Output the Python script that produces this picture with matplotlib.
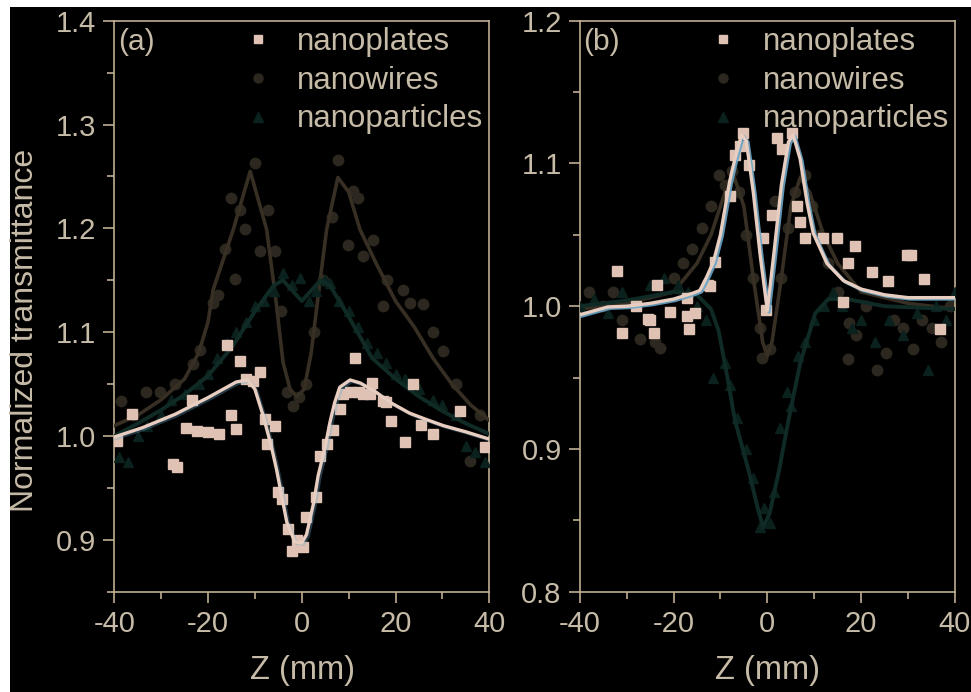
import matplotlib

matplotlib.use("Agg")

import matplotlib.pyplot as plt
import matplotlib.patheffects as pe
from matplotlib.lines import Line2D
from matplotlib.patches import Rectangle
from matplotlib.ticker import MultipleLocator

plt.rcParams["font.family"] = ["Liberation Sans", "DejaVu Sans"]
plt.rcParams["axes.unicode_minus"] = False

# ---- panel (a): measured points ----
a_plates_z = [-39.5, -36.3, -27.4, -26.6, -24.6, -23.5, -22.3, -20.0, -17.7, -16.0,
              -15.0, -14.0, -13.2, -11.8, -10.4, -8.9, -7.9, -7.5, -5.7, -5.0,
              -4.3, -2.9, -2.0, -1.1, 0.2, 1.0, 3.0, 3.9, 5.3, 6.6,
              8.1, 8.8, 10.3, 11.3, 12.3, 13.0, 14.5, 14.9, 17.4, 18.0,
              19.1, 22.0, 23.7, 25.5, 28.0, 33.7, 39.0]
a_plates_t = [0.995, 1.021, 0.973, 0.970, 1.008, 1.035, 1.005, 1.004, 1.002, 1.088,
              1.020, 1.007, 1.072, 1.055, 1.053, 1.062, 1.016, 0.992, 1.010, 0.946,
              0.939, 0.910, 0.889, 0.900, 0.893, 0.922, 0.941, 0.981, 0.992, 1.006,
              1.026, 1.040, 1.042, 1.075, 1.042, 1.040, 1.040, 1.051, 1.034, 1.033,
              1.014, 0.994, 1.050, 1.011, 1.002, 1.024, 0.989]

a_wires_z = [-38.6, -36.0, -33.3, -30.3, -27.0, -23.3, -21.7, -18.9, -17.8, -16.4,
             -15.0, -14.3, -13.2, -12.1, -10.0, -8.9, -7.2, -5.7, -4.5, -3.2,
             -1.8, -0.5, 1.0, 2.5, 4.5, 6.4, 7.8, 9.9, 11.0, 12.0,
             13.1, 15.2, 17.4, 18.1, 21.6, 23.0, 25.9, 28.0, 30.1, 33.0,
             35.8, 38.0]
a_wires_t = [1.034, 1.020, 1.042, 1.042, 1.050, 1.069, 1.083, 1.128, 1.136, 1.180,
             1.229, 1.151, 1.218, 1.199, 1.263, 1.178, 1.218, 1.178, 1.120, 1.042,
             1.029, 1.038, 1.050, 1.100, 1.150, 1.211, 1.266, 1.184, 1.236, 1.229,
             1.173, 1.189, 1.125, 1.150, 1.141, 1.128, 1.127, 1.100, 1.082, 1.050,
             0.976, 1.020]

a_parts_z = [-39.0, -37.0, -35.0, -33.0, -30.0, -28.0, -25.0, -22.0, -20.0, -18.0,
             -16.0, -14.0, -12.0, -10.0, -8.0, -6.0, -4.0, -2.0, -0.4, 1.5,
             3.0, 5.0, 6.0, 8.0, 10.0, 12.0, 14.0, 16.0, 18.0, 20.0,
             22.0, 25.0, 28.0, 30.0, 33.0, 35.0, 37.0, 39.0]
a_parts_t = [0.980, 0.975, 1.000, 1.010, 1.020, 1.035, 1.040, 1.050, 1.060, 1.075,
             1.090, 1.100, 1.110, 1.125, 1.130, 1.140, 1.157, 1.145, 1.152, 1.130,
             1.140, 1.150, 1.147, 1.130, 1.120, 1.105, 1.090, 1.080, 1.070, 1.060,
             1.055, 1.045, 1.035, 1.030, 1.020, 0.990, 0.985, 0.975]

# ---- panel (a): fitted curves ----
a_plates_fit_z = [-40, -34, -27, -20, -14, -11.5, -10, -8.2, -6.5, -5.4, -3.2, -1.5,
                  0, 1, 2.5, 3.5, 5, 6, 7, 8.1, 10.3, 12.5, 15.9, 19, 23, 26.5,
                  30.2, 35, 40]
a_plates_fit_t = [0.999, 1.008, 1.021, 1.037, 1.052, 1.054, 1.045, 1.019, 0.990, 0.968,
                  0.917, 0.898, 0.897, 0.905, 0.935, 0.962, 0.990, 1.013, 1.032, 1.047,
                  1.054, 1.051, 1.042, 1.032, 1.022, 1.016, 1.010, 1.004, 0.997]

a_wires_fit_z = [-40, -35, -30, -25, -22, -20, -18.9, -14.6, -11, -7.5, -5.5, -4,
                 -2.5, -1, 0.5, 2, 3.5, 5.3, 7.7, 10, 12.4, 16, 20, 24, 28, 32, 36, 40]
a_wires_fit_t = [1.010, 1.020, 1.035, 1.055, 1.080, 1.110, 1.141, 1.199, 1.255, 1.199,
                 1.130, 1.071, 1.045, 1.038, 1.045, 1.080, 1.135, 1.199, 1.249, 1.235,
                 1.199, 1.165, 1.130, 1.105, 1.075, 1.050, 1.030, 1.015]

a_parts_fit_z = [-40, -35, -30, -25, -20, -15, -10, -6, -4, -2, 0, 2, 4, 6, 10, 15,
                 20, 25, 30, 35, 40]
a_parts_fit_t = [1.000, 1.012, 1.025, 1.040, 1.058, 1.085, 1.120, 1.145, 1.150, 1.140,
                 1.130, 1.140, 1.150, 1.145, 1.115, 1.075, 1.055, 1.038, 1.024, 1.012,
                 1.002]

# ---- panel (b): measured points ----
b_plates_z = [-32.1, -31.0, -28.0, -25.4, -25.0, -24.1, -23.6, -20.7, -17.2, -17.1,
              -16.8, -15.4, -12.6, -12.2, -11.2, -8.0, -6.9, -5.8, -5.1, -4.0,
              -0.9, -0.2, 0.9, 2.0, 3.1, 5.2, 6.3, 7.0, 8.0, 11.9,
              14.8, 16.2, 17.2, 18.7, 22.3, 25.8, 29.7, 30.6, 33.3, 36.8]
b_plates_t = [1.025, 0.981, 1.000, 0.991, 0.990, 0.981, 1.015, 0.996, 1.006, 0.993,
              0.984, 0.995, 1.015, 1.014, 1.031, 1.077, 1.106, 1.112, 1.121, 1.099,
              1.048, 0.997, 1.064, 1.118, 1.110, 1.121, 1.070, 1.059, 1.048, 1.048,
              1.048, 1.003, 1.030, 1.042, 1.024, 1.018, 1.036, 1.036, 1.019, 0.984]

b_wires_z = [-38.0, -35.0, -33.0, -31.0, -27.1, -24.0, -22.9, -20.0, -18.0, -16.0,
             -14.0, -12.0, -10.4, -9.0, -7.5, -6.0, -4.5, -3.0, -1.5, -1.2,
             0.5, 1.6, 3.0, 4.5, 6.0, 8.0, 9.5, 11.0, 13.0, 15.0,
             17.3, 17.5, 19.0, 21.0, 23.3, 25.4, 27.0, 29.0, 31.0, 33.0,
             35.0, 37.0, 39.0]
b_wires_t = [1.010, 1.000, 1.010, 0.990, 0.977, 0.975, 0.971, 1.020, 1.030, 1.040,
             1.055, 1.070, 1.092, 1.085, 1.095, 1.080, 1.050, 1.020, 0.985, 0.964,
             0.970, 1.074, 1.020, 1.055, 1.080, 1.092, 1.070, 1.050, 1.030, 1.010,
             0.963, 0.988, 0.980, 1.000, 0.955, 0.967, 0.990, 0.985, 0.970, 0.990,
             0.985, 0.975, 1.000]

b_parts_z = [-40.0, -37.0, -34.0, -31.0, -28.0, -25.0, -22.0, -19.0, -17.0, -15.0,
             -13.0, -11.5, -9.0, -8.0, -6.5, -4.5, -3.0, -1.5, -0.8, 0.5,
             1.5, 2.7, 4.1, 5.0, 6.5, 8.0, 10.0, 12.0, 14.0, 16.0,
             18.0, 20.0, 23.0, 26.0, 29.0, 32.0, 34.3, 36.0, 38.0, 40.0]
b_parts_t = [1.000, 1.005, 0.995, 1.010, 1.000, 1.015, 1.020, 1.015, 1.010, 1.000,
             0.990, 0.950, 0.960, 0.945, 0.922, 0.900, 0.880, 0.845, 0.859, 0.848,
             0.870, 0.915, 0.940, 0.930, 0.965, 0.975, 0.990, 1.000, 1.010, 1.000,
             0.985, 0.990, 0.975, 0.990, 0.980, 0.995, 0.955, 1.000, 0.990, 1.010]

# ---- panel (b): fitted curves ----
b_plates_fit_z = [-40, -34, -30, -25, -20, -16, -14.4, -13, -11.5, -10, -8, -7, -5.5,
                  -4.5, -3, -1.5, 0, 1.5, 3, 4.5, 5.5, 7, 8.5, 9.8, 12.7, 16.2, 20,
                  25, 30, 35, 40]
b_plates_fit_t = [0.994, 0.9995, 1.000, 1.002, 1.005, 1.009, 1.011, 1.020, 1.031, 1.050,
                  1.088, 1.102, 1.120, 1.116, 1.080, 1.035, 0.997, 1.040, 1.085, 1.115,
                  1.120, 1.103, 1.072, 1.051, 1.030, 1.018, 1.012, 1.008, 1.006, 1.006,
                  1.006]

b_wires_fit_z = [-40, -30, -20, -15, -12, -9, -7, -5, -3, -1, 0, 1, 3, 5, 7, 9, 12,
                 15, 20, 30, 40]
b_wires_fit_t = [0.998, 1.002, 1.010, 1.030, 1.050, 1.080, 1.090, 1.070, 1.020, 0.975,
                 0.965, 0.975, 1.020, 1.070, 1.090, 1.080, 1.050, 1.030, 1.010, 1.002,
                 0.998]

b_parts_fit_z = [-40, -30, -20, -15, -12, -10.4, -8.5, -6.9, -4, -2, -0.9, 0.5, 2.5,
                 4.5, 7, 10.2, 13, 17, 25, 40]
b_parts_fit_t = [1.000, 1.004, 1.010, 1.008, 0.998, 0.983, 0.950, 0.920, 0.885, 0.858,
                 0.845, 0.855, 0.885, 0.920, 0.960, 0.995, 1.005, 1.005, 1.000, 0.998]

labels = ["nanoplates", "nanowires", "nanoparticles"]

# colores
txt_col = "#c6bba7"
axis_col = "#bfae92"
plate_col = "#e0c2b4"
plate_line = "#e8cdc1"
wire_col = "#2c281f"
wire_line = "#372f23"
part_col = "#0a211d"
part_line = "#102b26"


def dibujar_panel(ax, datos, ajustes, ylim, tag, sombra):
    (pz, pt), (wz, wt), (nz, nt) = datos
    (fpz, fpt), (fwz, fwt), (fnz, fnt) = ajustes

    ax.set_facecolor("black")
    ax.plot(wz, wt, "o", ms=7.5, color=wire_col, mec=wire_col, zorder=2)
    ax.plot(fwz, fwt, "-", lw=2.6, color=wire_line, zorder=3)
    ax.plot(nz, nt, "^", ms=7.5, color=part_col, mec=part_col, zorder=4)
    ax.plot(fnz, fnt, "-", lw=2.8, color=part_line, zorder=5)
    ax.plot(pz, pt, "s", ms=6.5, color=plate_col, mec=plate_col, zorder=6)
    ax.plot(fpz, fpt, "-", lw=2.4, color=plate_line, zorder=7,
            path_effects=[pe.SimpleLineShadow(offset=(1.3, -1.0),
                                              shadow_color="#6aa6c8",
                                              alpha=sombra),
                          pe.Normal()])

    ax.set_xlim(-40, 40)
    ax.set_ylim(*ylim)
    ax.xaxis.set_major_locator(MultipleLocator(20))
    ax.xaxis.set_minor_locator(MultipleLocator(10))
    ax.yaxis.set_major_locator(MultipleLocator(0.1))
    ax.yaxis.set_minor_locator(MultipleLocator(0.05))
    ax.yaxis.set_major_formatter(plt.FormatStrFormatter("%.1f"))
    ax.tick_params(which="both", direction="out", colors=axis_col,
                   labelcolor=txt_col, labelsize=21, width=1.2,
                   top=False, right=False)
    ax.tick_params(which="major", length=8, pad=5)
    ax.tick_params(which="minor", length=5)
    for lado in ax.spines.values():
        lado.set_color(axis_col)
        lado.set_linewidth(1.2)

    ax.text(0.01, 0.988, tag, transform=ax.transAxes, ha="left", va="top",
            fontsize=21.5, color=txt_col)

    handles = [
        Line2D([], [], ls="none", marker="s", ms=6, color=plate_col),
        Line2D([], [], ls="none", marker="o", ms=6.5, color=wire_col),
        Line2D([], [], ls="none", marker="^", ms=6.5, color=part_col),
    ]
    leg = ax.legend(handles, labels, loc="upper right",
                    bbox_to_anchor=(1.0, 1.0), frameon=False, fontsize=22.5,
                    handlelength=1.0, handletextpad=0.75, labelspacing=0.28,
                    borderpad=0.05, borderaxespad=0.15)
    for t in leg.get_texts():
        t.set_color(txt_col)


fig = plt.figure(figsize=(9.71, 6.92), dpi=100, facecolor="white")
# fondo negro con el borde blanco arriba y a la izquierda
fig.patches.append(Rectangle((10 / 971, 0), 1, 1 - 7 / 692,
                             transform=fig.transFigure, facecolor="black",
                             edgecolor="none", zorder=-10))

ax_a = fig.add_axes([0.1177, 0.1449, 0.3862, 0.8252])
ax_b = fig.add_axes([0.5970, 0.1449, 0.3865, 0.8252])

dibujar_panel(
    ax_a,
    [(a_plates_z, a_plates_t), (a_wires_z, a_wires_t), (a_parts_z, a_parts_t)],
    [(a_plates_fit_z, a_plates_fit_t), (a_wires_fit_z, a_wires_fit_t),
     (a_parts_fit_z, a_parts_fit_t)],
    (0.85, 1.4), "(a)", 0.35,
)
dibujar_panel(
    ax_b,
    [(b_plates_z, b_plates_t), (b_wires_z, b_wires_t), (b_parts_z, b_parts_t)],
    [(b_plates_fit_z, b_plates_fit_t), (b_wires_fit_z, b_wires_fit_t),
     (b_parts_fit_z, b_parts_fit_t)],
    (0.8, 1.2), "(b)", 0.9,
)

fig.text(25 / 971, 1 - 330 / 692, "Normalized transmittance", rotation=90,
         ha="center", va="center", fontsize=23, color=txt_col)
fig.text(302 / 971, 1 - 671 / 692, "Z (mm)", ha="center", va="center",
         fontsize=23.5, color=txt_col)
fig.text(767 / 971, 1 - 671 / 692, "Z (mm)", ha="center", va="center",
         fontsize=23.5, color=txt_col)

fig.savefig("out.png", dpi=100, facecolor=fig.get_facecolor())
